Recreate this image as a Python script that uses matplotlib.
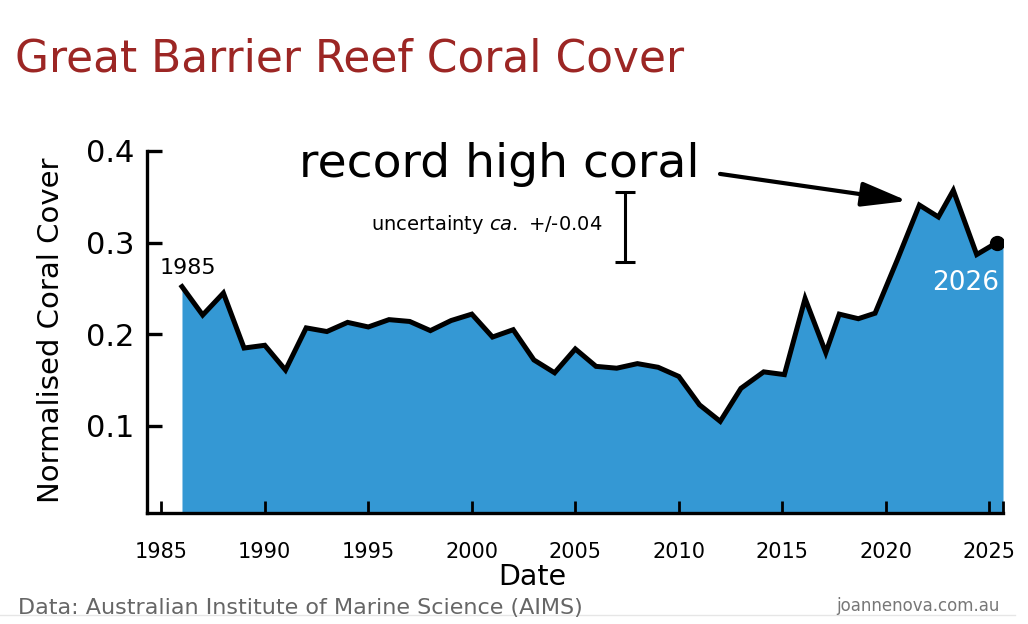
import matplotlib
matplotlib.use("Agg")
import matplotlib.pyplot as plt
import numpy as np

# ---- data ----
years = [1986, 1987, 1988, 1989, 1990, 1991, 1992, 1993, 1994, 1995,
         1996, 1997, 1998, 1999, 2000, 2001, 2002, 2003, 2004, 2005,
         2006, 2007, 2008, 2009, 2010, 2011, 2012, 2013, 2014.1, 2015.1,
         2016.1, 2017.1, 2017.75, 2018.67, 2019.48, 2020.55, 2021.62, 2022.54,
         2023.26, 2024.39, 2025.36]
cover = [0.252, 0.221, 0.245, 0.185, 0.188, 0.161, 0.207, 0.203, 0.213, 0.208,
         0.216, 0.214, 0.204, 0.215, 0.222, 0.197, 0.205, 0.172, 0.158, 0.184,
         0.165, 0.163, 0.168, 0.164, 0.154, 0.123, 0.105, 0.141, 0.159, 0.156,
         0.239, 0.180, 0.222, 0.217, 0.223, 0.281, 0.341, 0.328, 0.357, 0.287,
         0.300]
x_ticks = [1985, 1990, 1995, 2000, 2005, 2010, 2015, 2020, 2025]
y_ticks = [0.1, 0.2, 0.3, 0.4]
x_range = (1984.31, 2025.66)
y_range = (0.005, 0.4)
uncert_x, uncert_y, uncert_err = 2007.4, 0.317, 0.038

FILL = "#3498d4"
TITLE_RED = "#9c2624"

plt.rcParams['font.family'] = ['DejaVu Sans']

fig = plt.figure(figsize=(10.28, 6.24), dpi=100)
ax = fig.add_axes([147/1028, 1-513/624, 856/1028, 362/624])

fx = np.append(years, x_range[1])
fy = np.append(cover, cover[-1])
ax.fill_between(fx, fy, y_range[0], color=FILL, lw=0, zorder=1)
ax.plot(years, cover, color="black", lw=3.6, solid_joinstyle="miter", zorder=3)
ax.plot(years[-1], cover[-1], "o", color="black", ms=10, zorder=4)

ax.set_xlim(*x_range)
ax.set_ylim(*y_range)
ax.set_xticks(x_ticks)
ax.set_xticks([x_range[1]], minor=True)
ax.set_yticks(y_ticks)
ax.set_yticklabels([f"{v:.1f}" for v in y_ticks])
for s in ["top", "right"]:
    ax.spines[s].set_visible(False)
for s in ["left", "bottom"]:
    ax.spines[s].set_linewidth(2.4)
ax.tick_params(axis="y", direction="in", length=11, width=2.4, labelsize=22, pad=9)
ax.tick_params(axis="x", which="both", direction="in", length=9, width=2, labelsize=15, pad=21)

ax.set_ylabel("Normalised Coral Cover", fontsize=21)
ax.yaxis.set_label_coords(-0.096, 0.505)
ax.set_xlabel("Date", fontsize=20.5)
ax.xaxis.set_label_coords(0.45, -0.177)
ax.xaxis.label.set_va("center")

# annotations
ax.text(1986.3, 0.272, "1985", fontsize=16, ha="center", va="center")
ax.text(2023.87, 0.256, "2026", fontsize=19, ha="center", va="center", color="white", zorder=5)
ax.annotate("", xy=(2021.05, 0.3455), xytext=(2011.99, 0.375),
            arrowprops=dict(arrowstyle="-|>,head_length=2.8,head_width=0.75",
                            lw=3, color="black", shrinkA=0, shrinkB=0))
ax.text(2011.0, 0.372, "record high coral", fontsize=34, ha="right", va="baseline")
ax.errorbar([uncert_x], [uncert_y], yerr=[uncert_err], fmt="none", ecolor="black",
            elinewidth=2.2, capsize=7, capthick=2.2)
ax.text(2006.29, 0.32, r"uncertainty $\it{ca.}$ +/-0.04", fontsize=14, ha="right", va="center")

fig.text(15/1028, 1-59/624, "Great Barrier Reef Coral Cover", fontsize=31.6,
         color=TITLE_RED, ha="left", va="center")
fig.text(18/1028, 1-608/624, "Data: Australian Institute of Marine Science (AIMS)",
         fontsize=16, color="#666666", ha="left", va="center")
fig.text(1000/1028, 1-606/624, "joannenova.com.au", fontsize=12, color="#777777",
         ha="right", va="center")
fig.add_artist(plt.Line2D([0, 1015/1028], [1-615/624, 1-615/624], color="#e6e6e6", lw=1))

fig.savefig("out.png", dpi=100)
